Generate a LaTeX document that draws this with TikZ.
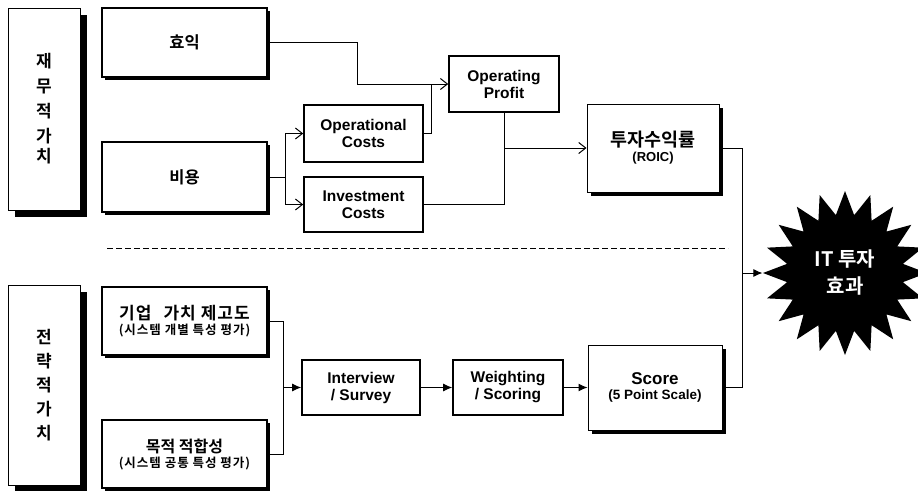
\documentclass[tikz,border=0pt]{standalone}
\usepackage{fontspec}
\setmainfont{Liberation Sans}
\newfontfamily\kr{Noto Sans CJK KR}[BoldFont={Noto Sans CJK KR Bold}]
\newfontfamily\krs{Noto Sans CJK KR}[BoldFont={Noto Sans CJK KR Bold},LetterSpace=8]
\newfontfamily\krw{Noto Sans CJK KR}[BoldFont={Noto Sans CJK KR Bold},LetterSpace=6]
\usetikzlibrary{arrows.meta,shapes.geometric,shadows}
\begin{document}
\begin{tikzpicture}[x=1pt,y=-1pt,
  box/.style={draw, line width=1.6pt, fill=white, inner sep=2pt, align=center,
    font=\bfseries\fontsize{15.5}{17}\selectfont},
  shbox/.style={box, drop shadow={shadow xshift=3pt, shadow yshift=-3pt, fill=black, opacity=1}},
  resbox/.style={box, line width=1pt, drop shadow={shadow xshift=4pt, shadow yshift=-4pt, fill=black, opacity=1}},
  colbox/.style={draw, line width=1pt, fill=white, align=center,
    font=\kr\bfseries\fontsize{17}{25}\selectfont,
    drop shadow={shadow xshift=7pt, shadow yshift=-7pt, fill=black, opacity=1}},
  krt/.style={font=\kr\bfseries\fontsize{16.5}{18}\selectfont},
  conn/.style={line width=1pt},
  oarr/.style={conn, -{Straight Barb[length=7pt,width=11pt,line width=1pt]}},
  farr/.style={conn, -{Latex[length=9pt,width=8pt]}}
]
\useasboundingbox (0,0) rectangle (918,490);

% left column boxes
\node[colbox, minimum width=72pt, minimum height=202pt] (lt) at (44,109)
  {재\\무\\적\\가\\[-5pt]치};
\node[colbox, minimum width=72pt, minimum height=200pt, font=\kr\bfseries\fontsize{17}{24}\selectfont] (lb) at (44,385)
  {전\\략\\적\\가\\치};

% financial section
\node[shbox, krt, minimum width=165pt, minimum height=69pt] (hy) at (184.5,42.5) {효익};
\node[shbox, krt, minimum width=165pt, minimum height=70pt] (bi) at (184.5,177) {비용};
\node[box, minimum width=119pt, minimum height=57pt] (oc) at (363.5,133.5) {Operational\\Costs};
\node[box, minimum width=119pt, minimum height=55pt] (ic) at (363.5,204.5) {Investment\\Costs};
\node[box, minimum width=110pt, minimum height=56pt] (op) at (504,84) {Operating\\Profit};
\node[resbox, minimum width=132pt, minimum height=88pt] (roic) at (653,148)
  {{\kr\bfseries\fontsize{18.5}{20}\selectfont 투자수익률}\\[-2pt]{\fontsize{13}{14}\selectfont (ROIC)}};

% strategic section
\node[box, line width=1.3pt, drop shadow={shadow xshift=3pt, shadow yshift=-3pt, fill=black, opacity=1},
  minimum width=165pt, minimum height=68pt] (cv) at (184.5,321)
  {{\krw\bfseries\fontsize{17}{19}\selectfont 기업\hspace{12pt}가치\hspace{5pt}제고도}\\[-2pt]{\krs\bfseries\fontsize{12.5}{14}\selectfont (시스템 개별 특성 평가)}};
\node[box, line width=1.3pt, drop shadow={shadow xshift=3pt, shadow yshift=-3pt, fill=black, opacity=1},
  minimum width=165pt, minimum height=68pt] (pf) at (184.5,454)
  {{\kr\bfseries\fontsize{16}{19}\selectfont 목적 적합성}\\[-2pt]{\krs\bfseries\fontsize{12.5}{14}\selectfont (시스템 공통 특성 평가)}};
\node[box, minimum width=118pt, minimum height=55pt] (iv) at (361,387.5) {Interview\\/ Survey};
\node[box, minimum width=110pt, minimum height=55pt] (wt) at (508,387.5) {Weighting\\/ Scoring};
\node[resbox, minimum width=134pt, minimum height=85pt] (sc) at (655,387.5)
  {{\fontsize{17}{19}\selectfont Score}\\[-2pt]{\fontsize{13.5}{15}\selectfont (5 Point Scale)}};

% star
\node[star, star points=20, star point ratio=1.4, minimum size=164pt, inner sep=0pt,
  fill=black, text=white, align=center, font=\kr\bfseries\fontsize{20}{27}\selectfont]
  (st) at (845,273) {IT 투자\\효과};

% dashed separator
\coordinate (d1) at (107,248);
\coordinate (d2) at (728,248);
\draw[line width=1pt, dash pattern=on 6pt off 3pt] (d1) -- (d2);

% financial connectors
\coordinate (j1) at (357,84);
\coordinate (j2) at (431,84);
\coordinate (j3) at (285,177);
\draw[conn] (hy.east) -| (j1);
\draw[oarr] (j1) -- (op.west);
\draw[conn] (oc.east) -| (j2);
\draw[conn] (bi.east) -- (j3);
\draw[oarr] (j3) |- (oc.west);
\draw[oarr] (j3) |- (ic.west);
\draw[oarr] (op.south) |- (roic.west);
\draw[conn] (ic.east) -| (op.south);

% strategic connectors
\coordinate (j5) at (283,387.5);
\draw[conn] (cv.east) -| (j5);
\draw[conn] (pf.east) -| (j5);
\draw[farr] (j5) -- (iv.west);
\draw[farr] (iv.east) -- (wt.west);
\draw[farr] (wt.east) -- (sc.west);

% to the star
\coordinate (j4) at (742,273);
\draw[conn] (roic.east) -| (j4);
\draw[conn] (sc.east) -| (j4);
\draw[farr] (j4) -- (st);
\end{tikzpicture}
\end{document}
